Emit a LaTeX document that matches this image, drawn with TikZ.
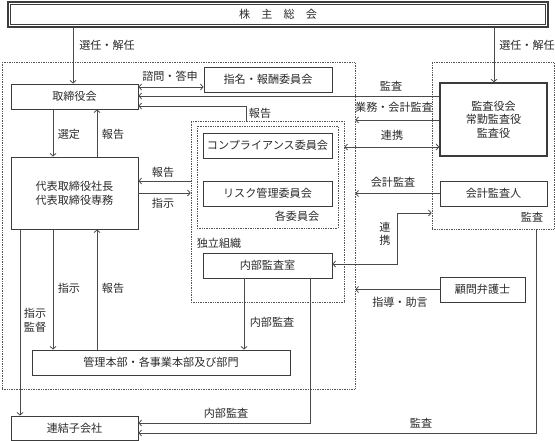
\documentclass[tikz,border=0pt]{standalone}
\usepackage{fontspec}
\setmainfont{Noto Sans CJK JP}
\usetikzlibrary{arrows.meta}
\definecolor{txt}{HTML}{2A2A2A}
\definecolor{boxc}{HTML}{3C3C3C}
\definecolor{linec}{HTML}{4A4A4A}
\definecolor{dotc}{HTML}{555555}
\newcommand{\fs}{\fontsize{11.1pt}{13.6pt}\selectfont}
\tikzset{
 box/.style={draw=boxc, line width=0.9pt, inner sep=0pt, minimum height=25pt, font=\fs, text=txt, align=center},
 dbox/.style={draw=dotc, densely dotted, line width=0.7pt, inner sep=0pt},
 con/.style={draw=linec, line width=0.8pt},
 tip/.tip={Straight Barb[length=2.6pt,width=6pt]},
 arr/.style={con, -tip},
 barr/.style={con, tip-tip},
 lab/.style={font=\fs, text=txt, inner sep=0pt},
}
\begin{document}
\begin{tikzpicture}[x=1pt,y=-1pt]
\useasboundingbox (0,0) rectangle (555,441);
% dotted frames
\node[dbox, minimum width=353pt, minimum height=326.5pt] (outerL) at (178.5,225.75) {};
\node[dbox, minimum width=122pt, minimum height=166.5pt] (outerR) at (493,145.75) {};
\node[dbox, minimum width=153pt, minimum height=181pt] (indep) at (267.5,211.5) {};
\node[dbox, minimum width=141pt, minimum height=102pt] (iinkai) at (267.5,177) {};
% shareholders meeting (double frame)
\node[box, minimum width=540pt, minimum height=25pt, line width=1.1pt] (kabu) at (278,14.5) {株　主　総　会};
\draw[draw=boxc, line width=0.8pt] ([shift={(3pt,3pt)}]kabu.south west) rectangle ([shift={(-3pt,-3pt)}]kabu.north east);
% boxes
\node[box, minimum width=127pt] (tori) at (74.5,96.5) {取締役会};
\node[box, minimum width=128pt] (shimei) at (268,79.5) {指名・報酬委員会};
\node[box, minimum width=107pt, minimum height=73pt, line width=1.4pt] (kansa) at (493.5,119.5) {監査役会\\常勤監査役\\監査役};
\node[box, minimum width=129pt] (comp) at (267.5,145.5) {コンプライアンス委員会};
\node[box, minimum width=129pt] (risk) at (267.5,193.5) {リスク管理委員会};
\node[box, minimum width=129pt] (naibu) at (267.5,265.5) {内部監査室};
\node[box, minimum width=127pt, minimum height=72pt] (daihyo) at (74.5,193) {代表取締役社長\\代表取締役専務};
\node[box, minimum width=107pt] (kaikei) at (493.5,193.5) {会計監査人};
\node[box, minimum width=85pt] (komon) at (482.5,289.5) {顧問弁護士};
\node[box, minimum width=258pt] (kanri) at (161,362.5) {管理本部・各事業本部及び部門};
\node[box, minimum width=127pt, minimum height=24pt] (renketsu) at (74.5,428) {連結子会社};
% frame captions
\node[lab] (lkakuiin) at (297,216) {各委員会};
\node[lab] (lkansa) at (532,217) {監査};
\node[lab] (ldoku) at (219,243) {独立組織};
% connectors
\coordinate (xa) at (73,0);
\coordinate (xb) at (494,0);
\draw[arr] (kabu.south -| xa) -- (tori.north -| xa);
\node[lab] (l1) at (107,45) {選任・解任};
\draw[arr] (kabu.south -| xb) -- (kansa.north -| xb);
\node[lab] (l2) at (527,45) {選任・解任};
\draw[barr] (tori.east |- 0,87) -- (shimei.west |- 0,87);
\node[lab] (l3) at (170,76) {諮問・答申};
\draw[arr] (kansa.west |- 0,96) -- (tori.east |- 0,96);
\node[lab] (l4) at (391,86) {監査};
\coordinate (rp) at (246,106);
\draw[arr] (indep.north -| rp) -- (rp) -- (tori.east |- rp);
\node[lab] (l5) at (260,113) {報告};
\draw[arr] (kansa.west |- 0,120) -- (outerL.east |- 0,120);
\node[lab] (l6) at (394,107) {業務・会計監査};
\draw[barr] (indep.east |- 0,147) -- (kansa.west |- 0,147);
\node[lab] (l7) at (392,135) {連携};
\draw[arr] (indep.west |- 0,181) -- (daihyo.east |- 0,181);
\node[lab] (l8) at (163,172) {報告};
\draw[arr] (daihyo.east |- 0,193) -- (indep.west |- 0,193);
\node[lab] (l9) at (163,203) {指示};
\draw[arr] (kaikei.west) -- (outerL.east |- kaikei.west);
\node[lab] (l10) at (393,182) {会計監査};
\draw[barr] (naibu.east |- 0,264) -- (397,264) -- (397,213) -- (outerR.west |- 0,213);
\node[lab] (l11a) at (385,227) {連};
\node[lab] (l11b) at (385,240) {携};
\draw[arr] (komon.west) -- (outerL.east |- komon.west);
\node[lab] (l12) at (400,302) {指導・助言};
% left verticals
\coordinate (x20) at (20,0);
\coordinate (x53) at (53,0);
\coordinate (x97) at (97,0);
\draw[arr] (tori.south -| x53) -- (daihyo.north -| x53);
\node[lab] (l13) at (69,134) {選定};
\draw[arr] (daihyo.north -| x97) -- (tori.south -| x97);
\node[lab] (l14) at (113,134) {報告};
\draw[arr] (daihyo.south -| x20) -- (renketsu.north -| x20);
\node[lab] (l15a) at (35,313) {指示};
\node[lab] (l15b) at (35,327) {監督};
\draw[arr] (daihyo.south -| x53) -- (kanri.north -| x53);
\node[lab] (l16) at (69,288) {指示};
\draw[arr] (kanri.north -| x97) -- (daihyo.south -| x97);
\node[lab] (l17) at (113,288) {報告};
% internal audit
\coordinate (x244) at (244,0);
\draw[arr] (naibu.south -| x244) -- (kanri.north -| x244);
\node[lab] (l18) at (272,322) {内部監査};
\coordinate (c310) at (310,423);
\draw[arr] (naibu.south -| c310) -- (c310) -- (renketsu.east |- c310);
\node[lab] (l19) at (226,413) {内部監査};
\coordinate (c536) at (536,433);
\draw[arr] (outerR.south -| c536) -- (c536) -- (renketsu.east |- c536);
\node[lab] (l20) at (421,423) {監査};
\end{tikzpicture}
\end{document}
